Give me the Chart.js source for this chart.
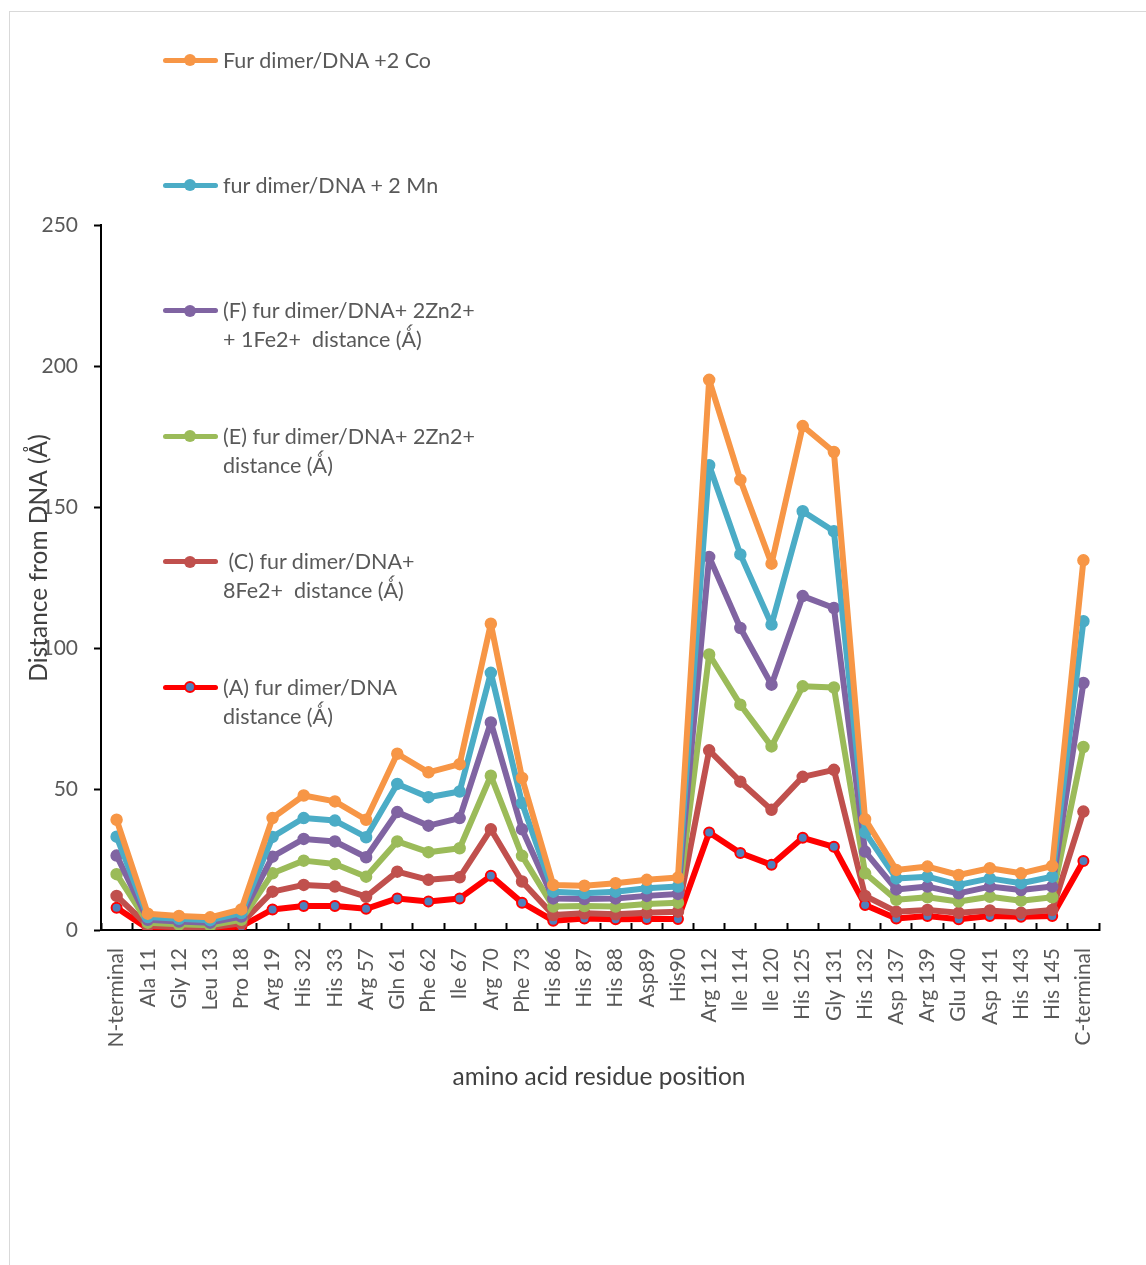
<!DOCTYPE html>
<html>
<head>
<meta charset="utf-8">
<script src="https://cdn.jsdelivr.net/npm/chart.js@4.4.1/dist/chart.umd.min.js"></script>
<style>
  body { margin: 0; background: #fff; overflow: hidden; }
  #wrap { position: relative; width: 1146px; height: 1265px; }
  #frame { position: absolute; left: 9px; top: 11px; width: 1200px; height: 1300px; border: 1px solid #d9d9d9; }
  #legend { position: absolute; left: 0; top: 0; font-family: Lato, sans-serif; font-size: 21.5px; color: #595959; }
  .legend-item { position: absolute; left: 163px; white-space: nowrap; }
  .legend-mark { position: absolute; left: 0; width: 55px; height: 5px; border-radius: 3px; }
  .legend-dot { position: absolute; left: 21px; width: 12px; height: 12px; border-radius: 50%; box-sizing: border-box; }
  .legend-text { position: absolute; left: 60px; line-height: 29px; white-space: pre; }
</style>
</head>
<body>
<div id="wrap">
  <div id="frame"></div>
  <canvas id="chart"></canvas>
  <div id="legend"></div>
</div>
<script>
const residues = ['N-terminal', 'Ala 11', 'Gly 12', 'Leu 13', 'Pro 18', 'Arg 19', 'His 32', 'His 33',
  'Arg 57', 'Gln 61', 'Phe 62', 'Ile 67', 'Arg 70', 'Phe 73', 'His 86', 'His 87', 'His 88', 'Asp89',
  'His90', 'Arg 112', 'Ile 114', 'Ile 120', 'His 125', 'Gly 131', 'His 132', 'Asp 137', 'Arg 139',
  'Glu 140', 'Asp 141', 'His 143', 'His 145', 'C-terminal']

// distances (Å) per series
const coDist = [39.1, 5.8, 5.0, 4.5, 7.3, 39.7, 47.7, 45.6, 39.1, 62.5, 55.9, 58.8, 108.6, 53.9, 16.0, 15.7,
  16.6, 17.8, 18.6, 195.1, 159.6, 129.9, 178.7, 169.5, 39.3, 21.3, 22.5, 19.5, 21.9, 20.1, 22.7, 131.1]
const mnDist = [33.1, 4.6, 4.0, 3.5, 6.0, 33.0, 39.7, 38.8, 32.9, 51.8, 47.1, 49.1, 91.2, 45.0, 13.6, 13.0,
  13.6, 14.8, 15.4, 164.8, 133.2, 108.3, 148.5, 141.4, 34.6, 18.3, 18.9, 16.0, 18.3, 16.6, 18.9, 109.5]
const znFeDist = [26.4, 3.6, 3.0, 2.6, 4.8, 26.0, 32.3, 31.4, 25.8, 41.8, 37.0, 39.7, 73.6, 35.7, 11.2, 11.0,
  11.2, 12.1, 12.8, 132.3, 107.1, 87.0, 118.4, 114.2, 27.8, 14.4, 15.4, 13.0, 15.4, 14.2, 15.4, 87.6]
const znDist = [19.8, 2.6, 2.0, 1.7, 3.6, 20.1, 24.6, 23.4, 18.9, 31.4, 27.6, 29.0, 54.7, 26.3, 8.3, 8.5,
  8.3, 9.2, 9.7, 97.7, 79.9, 65.1, 86.4, 86.0, 20.1, 10.7, 11.6, 10.1, 11.8, 10.4, 11.6, 64.9]
const feDist = [12.1, 1.5, 1.0, 0.9, 2.4, 13.6, 16.0, 15.4, 11.8, 20.7, 17.8, 18.7, 35.7, 17.2, 5.3, 5.9,
  5.6, 6.1, 6.5, 63.7, 52.6, 42.6, 54.3, 56.8, 12.1, 6.5, 7.1, 6.1, 6.9, 6.1, 7.1, 42.0]
const apoDist = [7.9, 0.5, 0.3, 0.3, 1.3, 7.3, 8.5, 8.5, 7.5, 11.2, 10.1, 11.2, 19.2, 9.7, 3.3, 4.1,
  3.8, 3.9, 3.9, 34.6, 27.3, 23.1, 32.7, 29.5, 8.9, 4.1, 5.0, 3.8, 5.0, 4.7, 5.0, 24.5]

const seriesNames = [
  ['Fur dimer/DNA +2 Co'],
  ['fur dimer/DNA + 2 Mn'],
  ['(F) fur dimer/DNA+ 2Zn2+', '+ 1Fe2+  distance (Ǻ)'],
  ['(E) fur dimer/DNA+ 2Zn2+', 'distance (Ǻ)'],
  [' (C) fur dimer/DNA+', '8Fe2+  distance (Ǻ)'],
  ['(A) fur dimer/DNA', 'distance (Ǻ)']
]
const seriesData = [coDist, mnDist, znFeDist, znDist, feDist, apoDist]
const lineColors = ['#F79646', '#4BACC6', '#8064A2', '#9BBB59', '#C0504D', '#FF0000']
const dotColors = ['#F79646', '#4BACC6', '#8064A2', '#9BBB59', '#C0504D', '#4F81BD']

const xTitle = 'amino acid residue position'
const yTitle = 'Distance from DNA (Å)'

const FONT = 'Lato'
const TICK_COLOR = '#595959'

/* ---- axis titles drawn at fixed spots ---- */
const axisTitles = {
  id: 'axisTitles',
  afterDraw(chart) {
    const { ctx } = chart
    ctx.save()
    ctx.fillStyle = '#404040'
    ctx.font = `24.5px ${FONT}`
    ctx.textAlign = 'center'
    ctx.textBaseline = 'middle'
    ctx.fillText(xTitle, 599, 1077)
    ctx.translate(39, 558)
    ctx.rotate(-Math.PI / 2)
    ctx.fillText(yTitle, 0, 0)
    ctx.restore()
  }
}

const canvas = document.getElementById('chart')

new Chart(canvas, {
  type: 'line',
  data: {
    labels: residues,
    datasets: seriesData.map((values, i) => ({
      label: seriesNames[i].join(' '),
      data: values,
      borderColor: lineColors[i],
      backgroundColor: dotColors[i],
      borderWidth: 6,
      borderJoinStyle: 'round',
      borderCapStyle: 'round',
      tension: 0,
      pointRadius: i === 5 ? 5 : 5.5,
      pointBorderWidth: i === 5 ? 2 : 1.5,
      pointBackgroundColor: dotColors[i],
      pointBorderColor: lineColors[i],
    }))
  },
  options: {
    responsive: true,
    maintainAspectRatio: false,
    animation: false,
    layout: { padding: { top: 225, right: 47, left: 0, bottom: 0 } },
    plugins: {
      legend: { display: false },
      tooltip: { enabled: false }
    },
    scales: {
      x: {
        type: 'category',
        offset: true,
        afterFit: (scale) => { scale.height = 335 },
        border: { display: true, color: '#000', width: 2 },
        grid: { display: true, offset: true, drawOnChartArea: false, drawTicks: true, tickLength: -7, color: '#000', tickWidth: 2 },
        ticks: {
          autoSkip: false,
          maxRotation: 90,
          minRotation: 90,
          padding: 25,
          color: TICK_COLOR,
          font: { family: FONT, size: 21 }
        }
      },
      y: {
        min: 0,
        max: 250,
        afterFit: (scale) => { scale.width = 101 },
        border: { display: true, color: '#000', width: 2 },
        grid: { display: true, drawOnChartArea: false, drawTicks: true, tickLength: 7, color: '#000', tickWidth: 2 },
        ticks: {
          stepSize: 50,
          padding: 16,
          color: TICK_COLOR,
          font: { family: FONT, size: 21 }
        }
      }
    }
  },
  plugins: [axisTitles]
})

// Build legend
const legend = document.getElementById('legend')
legend.innerHTML = seriesNames.map((lines, i) => {
  const top = 60 + i * 125.4
  const dotBorder = i === 5 ? `border:2px solid ${lineColors[i]}` : ''
  return `
    <div class="legend-item" style="top:${top}px">
      <span class="legend-mark" style="top:-2.5px;background:${lineColors[i]}"></span>
      <span class="legend-dot" style="top:-6px;background:${dotColors[i]};${dotBorder}"></span>
      <div class="legend-text" style="top:-14.5px">${lines.join('\n')}</div>
    </div>`
}).join('')
</script>
</body>
</html>
